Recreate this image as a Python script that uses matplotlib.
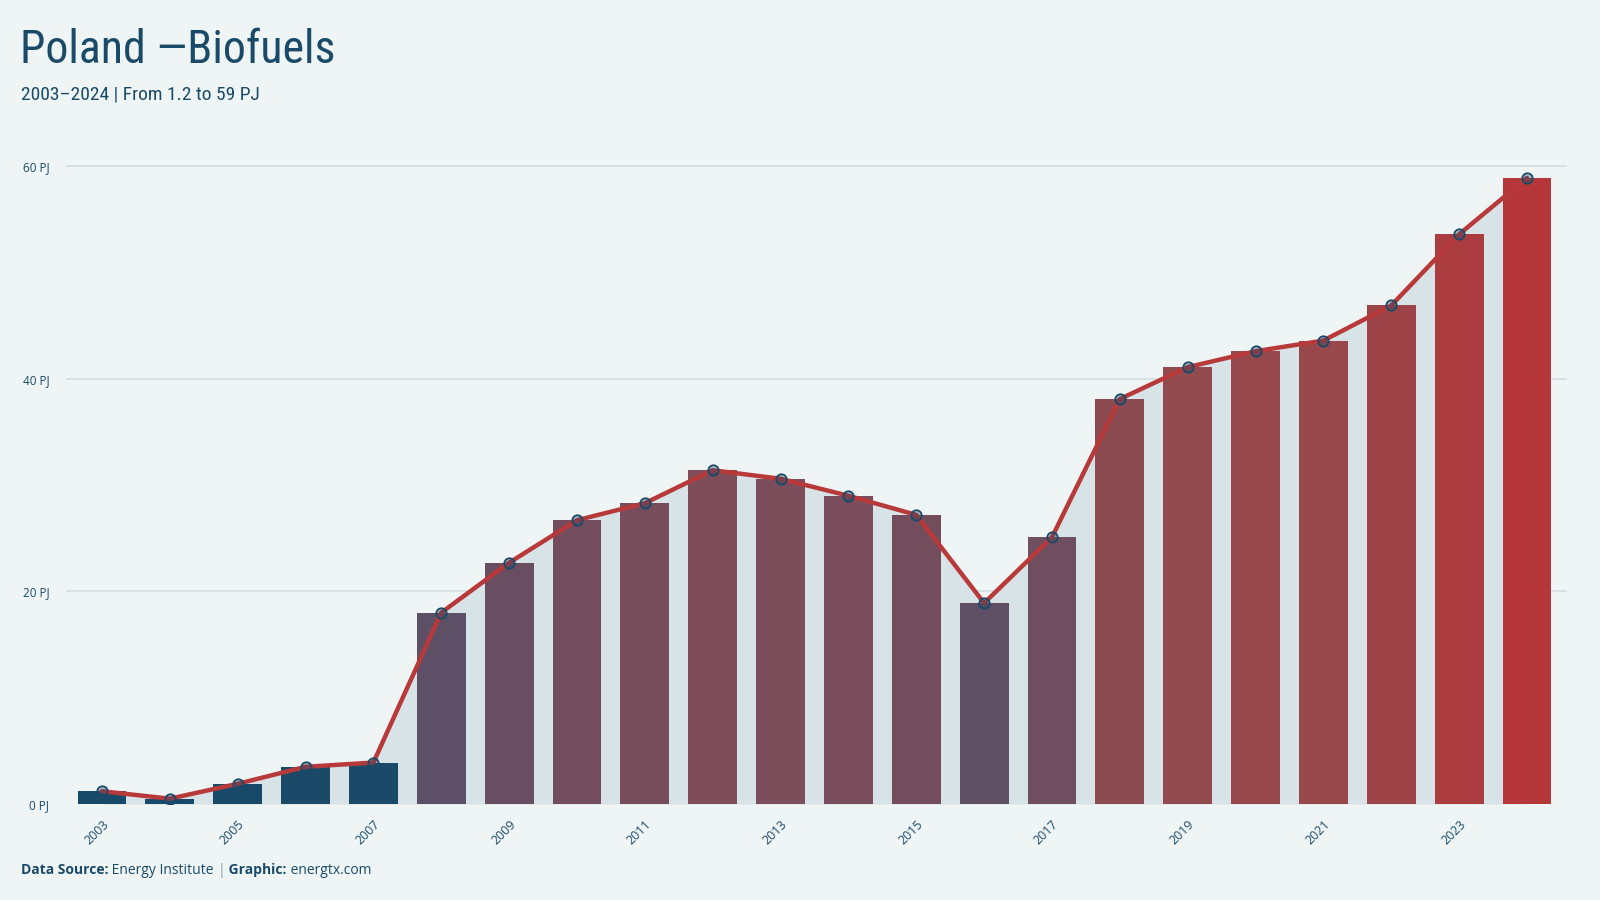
import matplotlib
matplotlib.use("Agg")
import matplotlib.pyplot as plt
from matplotlib.colors import LinearSegmentedColormap

years = list(range(2003, 2025))
values = [1.2, 0.5, 1.9, 3.5, 3.9, 18.0, 22.7, 26.7, 28.3, 31.4, 30.6,
          29.0, 27.2, 18.9, 25.1, 38.1, 41.1, 42.6, 43.6, 46.9, 53.6, 58.9]
ytick_values = [0, 20, 40, 60]
ytick_labels = ["0 PJ", "20 PJ", "40 PJ", "60 PJ"]
xtick_years = list(range(2003, 2025, 2))

BG = "#eff5f5"
NAVY = "#194a68"
RED = "#b8393a"
FILL = "#d7e3e7"
GRID = "#d2dde1"

cmap = LinearSegmentedColormap.from_list(
    "bio",
    [(0.0, "#15496a"), (0.07, "#1c4a68"), (0.3, "#5c4f65"), (0.5, "#7a4d5b"),
     (0.7, "#934a4e"), (1.0, "#b5373a")],
)

title_font = ["Liberation Sans Narrow", "Roboto Condensed", "DejaVu Sans"]
body_font = ["Open Sans", "DejaVu Sans"]

fig = plt.figure(figsize=(16, 9), dpi=100, facecolor=BG)
ax = fig.add_axes([66 / 1600, 96 / 900, 1501 / 1600, 659 / 900])
ax.set_facecolor(BG)

vmax = max(values)
bar_colors = [cmap(v / vmax) for v in values]

ax.fill_between(years, values, 0, color=FILL, zorder=1, linewidth=0)
for y in ytick_values[1:]:
    ax.axhline(y, color=GRID, lw=1.2, zorder=0.5)
ax.axhline(0, color=GRID, lw=1.0, ls=":", zorder=0.5)

ax.bar(years, values, width=0.72, color=bar_colors, zorder=2)
ax.plot(years, values, color=RED, lw=3.2, zorder=3, solid_capstyle="round")
ax.plot(years, values, ls="none", marker="o", markersize=7.5,
        markerfacecolor=(0.10, 0.29, 0.41, 0.35), markeredgecolor=NAVY,
        markeredgewidth=1.3, zorder=4)

ax.set_xlim(2002.47, 2024.59)
ax.set_ylim(0, 62)

ax.set_yticks(ytick_values)
ax.set_yticklabels(ytick_labels, fontsize=8.5, color=NAVY, family=body_font)
ax.set_xticks(xtick_years)
ax.set_xticklabels([str(y) for y in xtick_years], rotation=45, ha="right",
                   rotation_mode="anchor", fontsize=9, color=NAVY,
                   family=body_font)
ax.tick_params(axis="both", length=0)
ax.tick_params(axis="y", pad=12)
ax.tick_params(axis="x", pad=10)
for s in ax.spines.values():
    s.set_visible(False)

fig.text(20 / 1600, 1 - 50 / 900, "Poland \u2014Biofuels", fontsize=33,
         color=NAVY, family=title_font, va="center", ha="left")
fig.text(21 / 1600, 1 - 94 / 900, "2003\u20132024 | From 1.2 to 59 PJ",
         fontsize=14, color=NAVY, family=title_font, va="center", ha="left")

# footer built from pieces so the bold parts line up
fig.canvas.draw()
renderer = fig.canvas.get_renderer()
parts = [("Data Source:", "bold", NAVY), (" Energy Institute ", "normal", NAVY),
         ("|", "normal", "#8aa0ae"), (" Graphic:", "bold", NAVY),
         (" energtx.com", "normal", NAVY)]
x = 21
for txt, weight, col in parts:
    t = fig.text(x / 1600, 1 - 870 / 900, txt, fontsize=10, fontweight=weight,
                 color=col, family=body_font, va="center", ha="left")
    x += t.get_window_extent(renderer).width

fig.savefig("out.png", dpi=100, facecolor=BG)
